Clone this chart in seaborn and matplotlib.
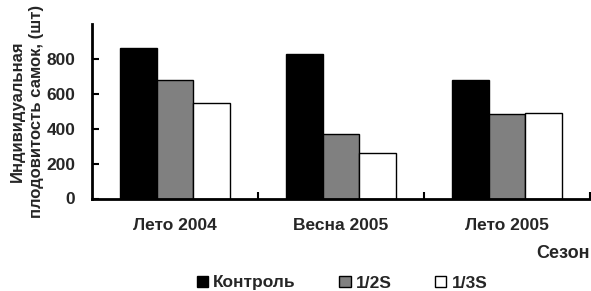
import matplotlib
matplotlib.use("Agg")
import matplotlib.pyplot as plt
import seaborn as sns
import pandas as pd
from matplotlib.ticker import FixedLocator

seasons = ["Лето 2004", "Весна 2005", "Лето 2005"]
groups = ["Контроль", "1/2S", "1/3S"]
control = [864, 826, 680]
half_s = [677, 371, 485]
third_s = [546, 258, 491]
yticks = [0, 200, 400, 600, 800]

rows = []
for i, s in enumerate(seasons):
    for g, vals in zip(groups, [control, half_s, third_s]):
        rows.append({"season": s, "group": g, "value": vals[i]})
df = pd.DataFrame(rows)

sns.set_theme(style="white")
plt.rcParams["font.family"] = ["Liberation Sans", "DejaVu Sans"]
plt.rcParams["font.weight"] = "bold"

fig = plt.figure(figsize=(5.91, 2.91), dpi=100)
ax = fig.add_axes([92 / 591, (291 - 198.5) / 291, (590 - 92) / 591, (198.5 - 24) / 291])

palette = {"Контроль": "#000000", "1/2S": "#808080", "1/3S": "#ffffff"}
sns.barplot(data=df, x="season", y="value", hue="group", palette=palette,
            width=0.667, edgecolor="black", linewidth=1, saturation=1,
            ax=ax, legend=True, gap=0)

ax.set_ylim(0, 1000)
ax.set_xlim(-0.5, 2.5)
ax.set_yticks(yticks)
ax.set_yticklabels([str(t) for t in yticks], fontsize=12.5, fontweight="bold")
ax.set_xticks(range(3))
ax.set_xticklabels(seasons, fontsize=12.5, fontweight="bold")
ax.xaxis.set_minor_locator(FixedLocator([0.5, 1.5, 2.5]))
ax.tick_params(axis="x", which="major", length=0, pad=14)
ax.tick_params(axis="x", which="minor", direction="in", length=5, width=1.5, color="black", bottom=True)
ax.tick_params(axis="y", which="major", direction="in", length=5, width=1.5, color="black", left=True, pad=12)

for side in ["top", "right"]:
    ax.spines[side].set_visible(False)
for side in ["left", "bottom"]:
    ax.spines[side].set_color("black")
    ax.spines[side].set_linewidth(2)

ax.set_xlabel("")
ax.set_ylabel("Индивидуальная\nплодовитость самок, (шт)", fontsize=12,
              fontweight="bold", labelpad=2, linespacing=1.3)

fig.text(590 / 591, (291 - 254) / 291, "Сезон", ha="right", va="center",
         fontsize=13, fontweight="bold")

handles, labels = ax.get_legend_handles_labels()
ax.get_legend().remove()
fig.legend(handles, labels, loc="center", bbox_to_anchor=(342 / 591, (291 - 283) / 291),
           ncol=3, frameon=False, handlelength=0.65, handleheight=0.65,
           handletextpad=0.3, columnspacing=2.5,
           prop={"weight": "bold", "size": 12.5})

fig.savefig("out.png", dpi=100)
